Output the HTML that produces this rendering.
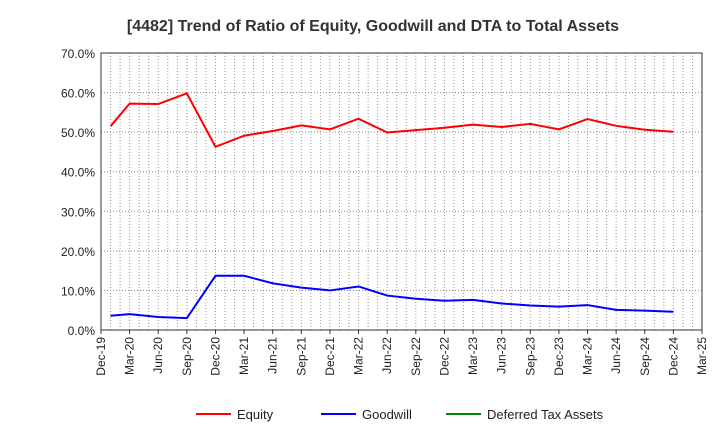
<!DOCTYPE html>
<html><head><meta charset="utf-8"><style>
body{margin:0;background:#fff;font-family:"Liberation Sans",sans-serif}
</style></head><body>
<svg id="chart" width="720" height="440" xmlns="http://www.w3.org/2000/svg" font-family="Liberation Sans, sans-serif"></svg>
<script>
const xLabels=["Dec-19","Mar-20","Jun-20","Sep-20","Dec-20","Mar-21","Jun-21","Sep-21","Dec-21","Mar-22","Jun-22","Sep-22","Dec-22","Mar-23","Jun-23","Sep-23","Dec-23","Mar-24","Jun-24","Sep-24","Dec-24","Mar-25"];
const yTicks=[0,10,20,30,40,50,60,70];
// month offsets from Dec-19
const months=[1,3,6,9,12,15,18,21,24,27,30,33,36,39,42,45,48,51,54,57,60];
const equity=[51.5,57.2,57.1,59.8,46.3,49.1,50.3,51.7,50.7,53.4,49.9,50.5,51.1,51.9,51.3,52.1,50.7,53.3,51.6,50.6,50.1];
const goodwill=[3.6,4.0,3.3,3.0,13.7,13.7,11.8,10.7,10.0,11.0,8.7,7.9,7.4,7.6,6.7,6.2,5.9,6.3,5.1,4.9,4.6];
const dta=[];
const L=101,R=702,T=53,B=330;
const X=m=>L+(R-L)*m/63, Y=v=>B-(B-T)*v/70;
const svg=document.getElementById('chart');const NS="http://www.w3.org/2000/svg";
function mk(t,a,p){const e=document.createElementNS(NS,t);for(const k in a)e.setAttribute(k,a[k]);(p||svg).appendChild(e);return e;}
let t=mk('text',{x:373,y:31,'text-anchor':'middle','font-size':16,'font-weight':'bold',fill:'#333'});t.textContent='[4482]  Trend of Ratio of Equity, Goodwill and DTA to Total Assets';

for(let m=1;m<63;m++){const g=mk('line',{x1:X(m),x2:X(m),y1:T,y2:B,stroke:'#999','stroke-dasharray':'1,2','stroke-width':1});}
yTicks.forEach(v=>{if(v>0&&v<70){const g=mk('line',{x1:L,x2:R,y1:Y(v),y2:Y(v),stroke:'#888','stroke-dasharray':'1,2'});}
const tx=mk('text',{x:L-6,y:Y(v)+5,'text-anchor':'end','font-size':12,fill:'#222'});tx.textContent=v.toFixed(1)+'%';
});
const fr=mk('rect',{x:L,y:T,width:R-L,height:B-T,fill:'none',stroke:'#333'});
xLabels.forEach((s,i)=>{const x=X(i*3);mk('line',{x1:x,x2:x,y1:B,y2:B+4,stroke:'#333'});
const tx=mk('text',{x:x+4,y:B+7,'text-anchor':'end','font-size':12,fill:'#222',transform:`rotate(-90 ${x+4} ${B+7})`});tx.textContent=s;
});
function line(d,c,n){if(!d.length)return;const p=mk('polyline',{points:d.map((v,i)=>X(months[i])+','+Y(v)).join(' '),fill:'none',stroke:c,'stroke-width':2});}
line(equity,'#f00','equity-line');line(goodwill,'#00f','goodwill-line');line(dta,'#080','dta-line');
[['Equity','#f00',196],['Goodwill','#00f',321],['Deferred Tax Assets','#080',446]].forEach(([n,c,x])=>{const g=mk('g',{});
mk('line',{x1:x,x2:x+35,y1:414,y2:414,stroke:c,'stroke-width':2},g);const tx=mk('text',{x:x+41,y:419,'font-size':13,fill:'#222'},g);tx.textContent=n;});
</script>
</body></html>
